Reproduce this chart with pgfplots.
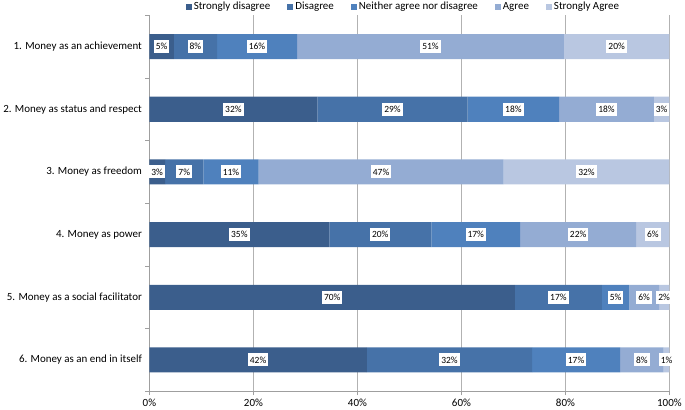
\documentclass[border=0pt]{standalone}
\usepackage{pgfplots}
\pgfplotsset{compat=1.18}
\usepackage{pgfplotstable}
\usepackage{fontspec}
\setmainfont{Carlito}

\definecolor{sd}{HTML}{3B5E8C}
\definecolor{di}{HTML}{4672A8}
\definecolor{ne}{HTML}{4F81BD}
\definecolor{ag}{HTML}{94ACD3}
\definecolor{sa}{HTML}{B9C7E1}

% y = 6 is item 1 (top row), y = 1 is item 6
\pgfplotstableread{
y v lab
6 4.7 5
5 32.3 32
4 3.0 3
3 34.6 35
2 70.3 70
1 41.8 42
}\tSD
\pgfplotstableread{
y v lab
6 8.3 8
5 28.9 29
4 7.4 7
3 19.6 20
2 16.7 17
1 31.8 32
}\tDI
\pgfplotstableread{
y v lab
6 15.4 16
5 17.6 18
4 10.6 11
3 17.1 17
2 5.3 5
1 16.9 17
}\tNE
\pgfplotstableread{
y v lab
6 51.3 51
5 18.2 18
4 47.1 47
3 22.3 22
2 5.7 6
1 8.4 8
}\tAG
\pgfplotstableread{
y v lab
6 20.3 20
5 3.0 3
4 31.9 32
3 6.4 6
2 2.0 2
1 1.1 1
}\tSA

\begin{document}
\begin{tikzpicture}
\begin{axis}[
    xbar stacked,
    scale only axis,
    width=520bp, height=376bp,
    xmin=0, xmax=100, ymin=0.5, ymax=6.5,
    bar width=0.4,
    axis x line*=bottom, axis y line*=left,
    axis line style={gray!75, line width=0.7bp},
    tick style={gray!75, line width=0.7bp},
    tick align=outside,
    major tick length=4bp,
    xtick={0,20,...,100},
    xticklabel={\pgfmathprintnumber{\tick}\%},
    /pgf/number format/assume math mode=true,
    xmajorgrids,
    grid style={gray!60, line width=0.7bp},
    ytick={0.5,1.5,...,6.5},
    yticklabels={},
    extra y ticks={1,2,3,4,5,6},
    extra y tick labels={
        6. Money as an end in itself,
        5. Money as a social facilitator,
        4. Money as power,
        3. Money as freedom,
        2. Money as status and respect,
        1. Money as an achievement},
    extra y tick style={major tick length=0pt, grid=none},
    tick label style={font=\fontsize{11}{13}\selectfont, black},
    yticklabel style={xshift=-4bp},
    point meta=explicit symbolic,
    nodes near coords={\pgfplotspointmeta\%},
    every node near coord/.append style={
        anchor=center, fill=white, inner xsep=2bp, inner ysep=0pt,
        minimum height=13bp, text=black,
        font=\fontsize{9.5}{11}\selectfont},
    legend style={at={(0.5,1)}, anchor=south, yshift=2bp, xshift=-6bp,
        draw=none, font=\fontsize{11}{13}\selectfont, inner sep=0pt,
        /tikz/every even column/.append style={column sep=15bp}},
    legend columns=5,
    legend image code/.code={\fill[#1] (0bp,-3bp) rectangle (6bp,3bp);},
]
\addplot[fill=sd, draw=none] table[x=v, y=y, meta=lab] {\tSD};
\addplot[fill=di, draw=none] table[x=v, y=y, meta=lab] {\tDI};
\addplot[fill=ne, draw=none] table[x=v, y=y, meta=lab] {\tNE};
\addplot[fill=ag, draw=none] table[x=v, y=y, meta=lab] {\tAG};
\addplot[fill=sa, draw=none] table[x=v, y=y, meta=lab] {\tSA};
\legend{Strongly disagree, Disagree, Neither agree nor disagree, Agree, Strongly Agree}
\end{axis}
\end{tikzpicture}
\end{document}
